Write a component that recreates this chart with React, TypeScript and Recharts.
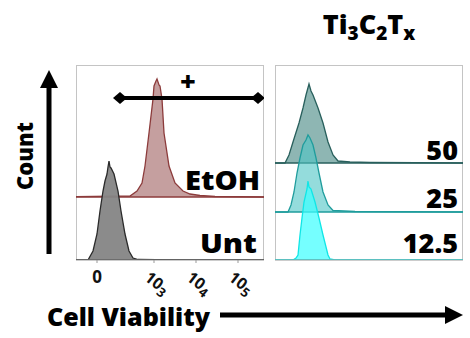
import React from "react";
import { ComposedChart, Area, Line, XAxis, YAxis } from "recharts";

// display channel scale shared by both panels (biexponential axis, 0..188)
const channelDomain = [0, 188];
const decadeTicks = [21, 78, 120, 162];
const decadeBase = ["0", "10", "10", "10"];
const decadeExp = ["", "3", "4", "5"];

// left panel: untreated and ethanol controls
const untChannel = [0, 12, 17, 21, 24, 27, 29, 31, 32, 33, 34, 35, 38, 42, 45, 49, 53, 57, 62, 80, 120, 188];
const untCount = [0, 0, 9, 26, 49, 69, 79, 86, 93, 99, 93, 92, 86, 69, 49, 26, 9, 2, 0.5, 0.3, 0.2, 0];

const etohChannel = [0, 54, 61, 66, 69, 73, 77, 78, 80, 81, 83, 84, 86, 88, 93, 99, 107, 114, 124, 139, 188];
const etohCount = [0.3, 1, 6, 14, 31, 64, 98, 111, 116, 118, 112, 111, 98, 64, 31, 14, 6, 3, 1.5, 0.5, 0];

// right panel: Ti3C2Tx doses (ug/mL)
const ti50Channel = [0, 10, 14, 18, 24, 28, 31, 34, 36, 38, 43, 48, 53, 58, 63, 75, 95, 188];
const ti50Count = [0, 0, 8, 21, 40, 55, 68, 79, 72, 68, 55, 40, 21, 8, 2, 1, 0.5, 0];

const ti25Channel = [0, 13, 16, 19, 22, 25, 28, 31, 33, 35, 38, 41, 44, 48, 53, 58, 80, 188];
const ti25Count = [0, 0, 7, 20, 39, 54, 67, 72, 77, 74, 67, 54, 39, 20, 7, 1.5, 0.5, 0];

const ti12Channel = [0, 18, 21, 23, 25, 27, 29, 32, 33, 34, 36, 40, 44, 48, 53, 55, 60, 188];
const ti12Count = [0, 0, 2, 5, 25, 42, 58, 71, 79, 73, 71, 58, 42, 25, 5, 1, 0, 0];

// viability gate
const gateBounds = [44, 182];
const gateLevel = 162;

// lane offsets (stacked histograms)
const untLane = 0;
const etohLane = 63;
const ti12Lane = 0;
const ti25Lane = 48;
const ti50Lane = 97;

const toPoints = (ch: number[], ct: number[]) => ch.map((c, i) => ({ channel: c, count: ct[i] }));

const font = "'Open Sans', Lato, sans-serif";

function DecadeTick(props: any) {
  const { x, y, payload } = props;
  const i = decadeTicks.indexOf(payload.value);
  if (!decadeExp[i]) {
    return (
      <text x={x} y={y + 18} textAnchor="middle" fontFamily={font} fontWeight={700} fontSize={17} fill="#111">
        {decadeBase[i]}
      </text>
    );
  }
  return (
    <g transform={`translate(${x - 3},${y + 5}) rotate(38)`}>
      <text x={0} y={12} fontFamily={font} fontWeight={700} fontSize={16} fill="#111">
        {decadeBase[i]}
        <tspan dy={4} fontSize={13}>{decadeExp[i]}</tspan>
      </text>
    </g>
  );
}

function Diamond(props: any) {
  const { cx, cy, index } = props;
  return <path key={index} d={`M${cx - 7},${cy} L${cx},${cy - 6} L${cx + 7},${cy} L${cx},${cy + 6} Z`} fill="#000" />;
}

function Histo({ data, lane, fill, stroke, opacity }: any) {
  return (
    <Area
      data={data}
      dataKey={(d: any) => [lane, lane + d.count]}
      type="linear"
      fill={fill}
      fillOpacity={opacity}
      stroke={stroke}
      strokeWidth={1.3}
      dot={false}
      activeDot={false}
      isAnimationActive={false}
    />
  );
}

function Panel({ children, width, left, labels }: any) {
  return (
    <ComposedChart
      width={width}
      height={315}
      margin={{ top: 65, left: left, right: width - left - 188, bottom: 0 }}
      style={{ position: "absolute", left: 0, top: 0 }}
    >
      <XAxis
        dataKey="channel"
        type="number"
        domain={channelDomain}
        ticks={decadeTicks}
        allowDataOverflow
        height={55}
        stroke="#999"
        tickSize={3}
        tick={labels ? <DecadeTick /> : false}
        interval={0}
      />
      <YAxis type="number" domain={[0, 195]} hide allowDataOverflow />
      {children}
    </ComposedChart>
  );
}

export default function App() {
  const gate = gateBounds.map((c) => ({ channel: c, level: gateLevel }));
  return (
    <div style={{ position: "fixed", left: 0, top: 0, width: 470, height: 338, background: "#fff", overflow: "hidden" }}>
      {/* frames */}
      <div style={{ position: "absolute", left: 76, top: 65, width: 188, height: 195, border: "1px solid #c4c4c4", borderBottom: "none", boxSizing: "border-box" }} />
      <div style={{ position: "absolute", left: 275, top: 65, width: 188, height: 195, border: "1px solid #c4c4c4", borderBottom: "none", boxSizing: "border-box" }} />

      <div style={{ position: "absolute", left: 0, top: 0, width: 270, height: 315 }}>
        <Panel width={270} left={76} labels>
          <Histo data={toPoints(etohChannel, etohCount)} lane={etohLane} fill="#c29a9a" stroke="#8c3b3b" opacity={0.95} />
          <Histo data={toPoints(untChannel, untCount)} lane={untLane} fill="#858585" stroke="#2a2a2a" opacity={0.95} />
          <Line
            data={gate}
            dataKey="level"
            stroke="#000"
            strokeWidth={4}
            dot={<Diamond />}
            activeDot={false}
            isAnimationActive={false}
          />
        </Panel>
      </div>
      <div style={{ position: "absolute", left: 270, top: 0, width: 200, height: 315 }}>
        <Panel width={200} left={5} labels={false}>
          <Histo data={toPoints(ti50Channel, ti50Count)} lane={ti50Lane} fill="#7aa9a6" stroke="#285f5c" opacity={0.85} />
          <Histo data={toPoints(ti25Channel, ti25Count)} lane={ti25Lane} fill="#4cc4c4" stroke="#1f9c9c" opacity={0.6} />
          <Histo data={toPoints(ti12Channel, ti12Count)} lane={ti12Lane} fill="#40ffff" stroke="#10e6e6" opacity={0.72} />
        </Panel>
      </div>

      <svg width={470} height={338} style={{ position: "absolute", left: 0, top: 0, pointerEvents: "none" }} fontFamily={font} fontWeight={800}>
        <text x={188} y={91} textAnchor="middle" fontSize={27}>+</text>
        <text x={260} y={190} textAnchor="end" fontSize={27} textLength={75} lengthAdjust="spacingAndGlyphs">EtOH</text>
        <text x={257} y={253} textAnchor="end" fontSize={27} textLength={57} lengthAdjust="spacingAndGlyphs">Unt</text>
        <text x={458} y={160} textAnchor="end" fontSize={27}>50</text>
        <text x={458} y={208} textAnchor="end" fontSize={27}>25</text>
        <text x={458} y={253} textAnchor="end" fontSize={27}>12.5</text>
        <text x={369} y={34} textAnchor="middle" fontSize={27}>
          Ti<tspan fontSize={19} dy={6}>3</tspan>
          <tspan dy={-6}>C</tspan>
          <tspan fontSize={19} dy={6}>2</tspan>
          <tspan dy={-6}>T</tspan>
          <tspan fontSize={19} dy={6}>x</tspan>
        </text>
        <text transform="translate(33,156) rotate(-90)" textAnchor="middle" fontSize={22}>Count</text>
        <line x1={49} y1={86} x2={49} y2={254} stroke="#000" strokeWidth={5} />
        <path d="M40,88 L49,70 L58,88 Z" fill="#000" />
        <text x={47} y={326} fontSize={25} textLength={163} lengthAdjust="spacingAndGlyphs">Cell Viability</text>
        <line x1={220} y1={315} x2={448} y2={315} stroke="#000" strokeWidth={5} />
        <path d="M445,306 L463,315 L445,324 Z" fill="#000" />
      </svg>
    </div>
  );
}
